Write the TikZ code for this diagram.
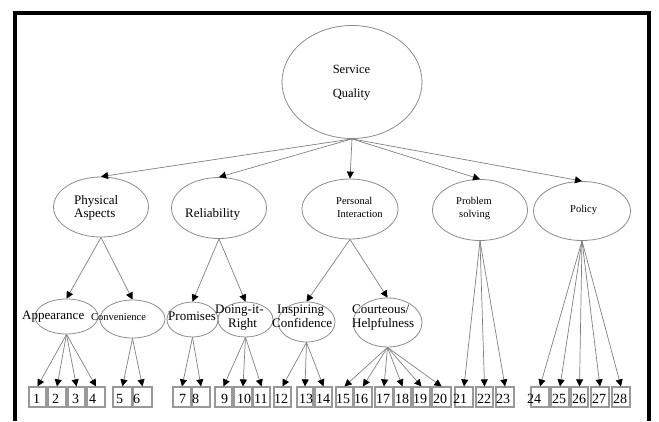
\documentclass[tikz,border=0pt]{standalone}
\usepackage{fontspec}
\setmainfont{Liberation Serif}
\usetikzlibrary{arrows.meta,shapes.geometric}

\begin{document}
\begin{tikzpicture}[x=1pt,y=-1pt]

	\tikzstyle factor=[ellipse, draw=black!45, line width=0.8pt, inner sep=0pt];
	\tikzstyle factor text=[font=\fontsize{13}{15}\selectfont, inner sep=0pt, anchor=base west];
	\tikzstyle small text=[font=\fontsize{10.5}{12}\selectfont, inner sep=0pt, anchor=base west];
	\tikzstyle item box=[draw=black!40, line width=1.2pt, minimum height=20pt, inner sep=0pt];
	\tikzstyle item text=[font=\fontsize{14}{16}\selectfont, inner sep=0pt, anchor=base west];
	\tikzstyle link lines=[draw=black!50, line width=0.7pt, -{Triangle[length=7pt,width=7pt,color=black]}];

	\useasboundingbox (0,0) rectangle (659,421);
	\draw[line width=4pt] (15,421) -- (15,12.5) -- (649,12.5) -- (649,421);

	% top factor
	\node[factor, minimum width=140pt, minimum height=113pt] (sq) at (352,82) {};
		\node[factor text, anchor=base, font=\fontsize{12.5}{14}\selectfont] (sq1) at (351.5,73.5) {Service};
		\node[factor text, anchor=base, font=\fontsize{12.5}{14}\selectfont] (sq2) at (351.5,97.5) {Quality};

	% dimensions
	\node[factor, minimum width=95pt, minimum height=60pt] (pa) at (101,207) {};
		\node[factor text] (pa1) at (74,204) {Physical};
		\node[factor text] (pa2) at (74,217) {Aspects};
	\node[factor, minimum width=95pt, minimum height=61pt] (rel) at (219,208) {};
		\node[factor text] (rel1) at (185,217) {Reliability};
	\node[factor, minimum width=96pt, minimum height=60pt] (pi) at (350,209) {};
		\node[small text] (pi1) at (336,204) {Personal};
		\node[small text] (pi2) at (337,217) {Interaction};
	\node[factor, minimum width=95pt, minimum height=61pt] (ps) at (480,210) {};
		\node[small text] (ps1) at (456,204) {Problem};
		\node[small text] (ps2) at (459,217) {solving};
	\node[factor, minimum width=97pt, minimum height=59pt] (pol) at (582,211) {};
		\node[small text] (pol1) at (570,212) {Policy};

	% sub-dimensions
	\node[factor, minimum width=63pt, minimum height=35pt] (app) at (66.5,316.5) {};
		\node[factor text] (app1) at (22,319) {Appearance};
	\node[factor, minimum width=65pt, minimum height=38pt] (con) at (132.5,319) {};
		\node[small text] (con1) at (91,320) {Convenience};
	\node[factor, minimum width=51pt, minimum height=35pt] (pro) at (192.5,319.5) {};
		\node[factor text] (pro1) at (168,320) {Promises};
	\node[factor, minimum width=55pt, minimum height=35pt] (dir) at (245.5,319.5) {};
		\node[factor text] (dir1) at (215,313) {Doing-it-};
		\node[factor text] (dir2) at (228,327) {Right};
	\node[factor, minimum width=57pt, minimum height=40pt] (ic) at (306.5,322) {};
		\node[factor text] (ic1) at (277,313) {Inspiring};
		\node[factor text] (ic2) at (272,327) {Confidence};
	\node[factor, minimum width=69pt, minimum height=49pt] (ch) at (387.5,322.5) {};
		\node[factor text] (ch1) at (352,313) {Courteous/};
		\node[factor text] (ch2) at (352,327) {Helpfulness};

	% items
	\foreach \n/\l/\r/\d in {1/29/46/4, 2/48/66/4, 3/68/85/4, 4/87/105/2, 5/113/132/3, 6/133/152/0,
			7/173/191/6, 8/192/210/0, 9/215/232/6, 10/234/252/3, 11/253/270/1, 12/274/291/0,
			13/297/313/2, 14/315/332/1, 15/336/353/0, 16/354/372/0, 17/375/393/1, 18/394/411/1,
			19/413/430/0, 20/432/451/1, 21/455/473/-2, 22/476/493/1, 23/496/514/0, 24/531/549/-4,
			25/551/569/1, 26/571/588/1, 27/591/609/1, 28/612/630/1}
		{
		\node[item box, minimum width=\r-\l] (b\n) at ({(\l+\r)/2},397) {};
		\node[item text] (t\n) at ({\l+(\d)},403) {\n};
		}

	% links
	\foreach \f in {pa,rel,pi,ps,pol}
		\draw[link lines] (sq.south) -- (\f.north);
	\draw[link lines] (pa.south) -- (app.north);
	\draw[link lines] (pa.south) -- (con.north);
	\draw[link lines] (rel.south) -- (pro.north);
	\draw[link lines] (rel.south) -- (dir.north);
	\draw[link lines] (pi.south) -- (ic.north);
	\draw[link lines] (pi.south) -- (ch.north);

	\foreach \b in {1,...,4}
		\draw[link lines] (app.south) -- (b\b.north);
	\foreach \b in {5,6}
		\draw[link lines] (con.south) -- (b\b.north);
	\foreach \b in {7,8}
		\draw[link lines] (pro.south) -- (b\b.north);
	\foreach \b in {9,10,11}
		\draw[link lines] (dir.south) -- (b\b.north);
	\foreach \b in {12,13,14}
		\draw[link lines] (ic.south) -- (b\b.north);
	\foreach \b in {15,...,20}
		\draw[link lines] (ch.south) -- (b\b.north);
	\foreach \b in {21,22,23}
		\draw[link lines] (ps.south) -- (b\b.north);
	\foreach \b in {24,...,28}
		\draw[link lines] (pol.south) -- (b\b.north);

\end{tikzpicture}
\end{document}
